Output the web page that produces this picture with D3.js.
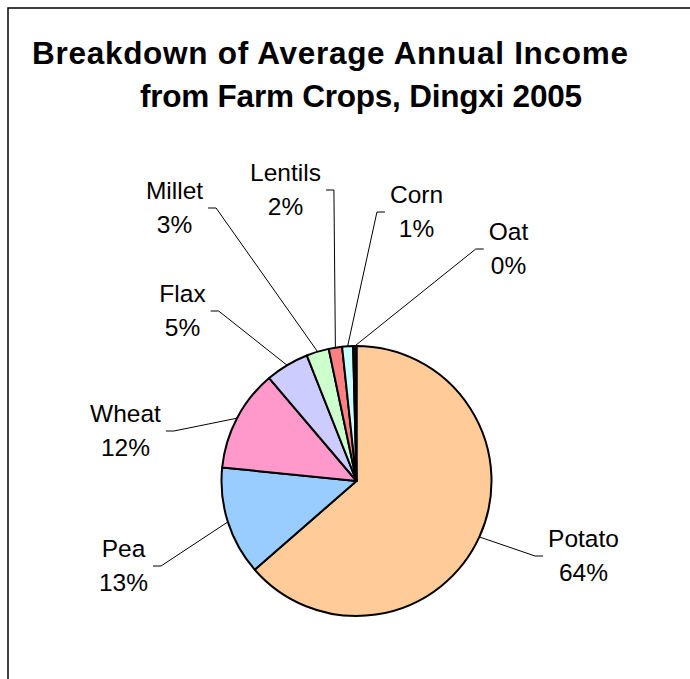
<!DOCTYPE html>
<html>
<head>
<meta charset="utf-8">
<script src="https://cdn.jsdelivr.net/npm/d3@7"></script>
<style>
  body { margin: 0; background: #fff; }
  svg text { font-family: "Liberation Sans", Arial, sans-serif; fill: #000; }
</style>
</head>
<body>
<div id="chart"></div>
<script>
// crops, clockwise from 12 o'clock
const crops = ["Potato", "Pea", "Wheat", "Flax", "Millet", "Lentils", "Corn", "Oat"];
// share of income (%)
const shares = [63.6, 13.0, 12.2, 5.2, 2.7, 1.6, 1.3, 0.4];
const sliceColors = ["#FFCC99", "#99CCFF", "#FF99CC", "#CCCCFF", "#CCFFCC", "#FF8080", "#CCFFFF", "#111111"];

const titleLines = ["Breakdown of Average Annual Income", "from Farm Crops, Dingxi 2005"];

// where the dragged labels sit, relative to the pie centre (like excel's manual label placement)
const labelOffsets = [[227, 74], [-233, 84], [-231, -51], [-174, -171], [-182, -274], [-71, -292], [60, -270], [152, -233]];

const width = 690, height = 679;
const cx = 356.5, cy = 481, radius = 135;

const svg = d3.select("#chart").append("svg")
    .attr("width", width)
    .attr("height", height);

// outer frame (runs off the right and bottom)
svg.append("rect")
    .attr("x", 8).attr("y", 8)
    .attr("width", 720).attr("height", 720)
    .attr("fill", "none")
    .attr("stroke", "#000")
    .attr("stroke-width", 1.5);

// title - the original is stretched a bit wider than plain arial, so fit each line to its width
const titleBox = [[32, 596], [140, 442]];
svg.selectAll("text.title")
    .data(titleLines)
    .enter()
    .append("text")
    .attr("class", "title")
    .attr("x", (d, i) => titleBox[i][0])
    .attr("y", (d, i) => 64 + i * 42.5)
    .attr("textLength", (d, i) => titleBox[i][1])
    .attr("lengthAdjust", "spacing")
    .style("font-size", "31.5px")
    .style("font-weight", "bold")
    .text(d => d);

const pieData = d3.pie().sort(null).value(d => d.value)(
    crops.map((c, i) => ({ name: c, value: shares[i], color: sliceColors[i] }))
);

const arc = d3.arc().innerRadius(0).outerRadius(radius);

const g = svg.append("g").attr("transform", `translate(${cx},${cy})`);

g.selectAll("path.slice")
    .data(pieData)
    .enter()
    .append("path")
    .attr("class", "slice")
    .attr("d", arc)
    .attr("fill", d => d.data.color)
    .attr("stroke", "#000")
    .attr("stroke-width", 2)
    .attr("stroke-linejoin", "round");

const total = d3.sum(shares);
const pct = d => Math.round(d.value / total * 100) + "%";

// labels (two lines: name + percent)
const labels = g.selectAll("g.label")
    .data(pieData)
    .enter()
    .append("g")
    .attr("class", "label")
    .attr("transform", (d, i) => `translate(${labelOffsets[i][0]},${labelOffsets[i][1]})`);

labels.append("text")
    .attr("text-anchor", "middle")
    .attr("y", -8.5)
    .style("font-size", "24.5px")
    .text(d => d.data.name);

labels.append("text")
    .attr("text-anchor", "middle")
    .attr("y", 25.5)
    .style("font-size", "24.5px")
    .text(d => pct(d));

// leader lines: from slice edge to an elbow next to the label, then a short horizontal tick
labels.each(function (d, i) {
    const halfW = d3.max(d3.select(this).selectAll("text").nodes(), n => n.getComputedTextLength()) / 2;
    const [lx, ly] = labelOffsets[i];
    const side = lx < 0 ? -1 : 1;
    const mid = (d.startAngle + d.endAngle) / 2;
    const start = d3.pointRadial(mid, radius);
    const tickEnd = lx - side * (halfW + 5);
    const elbow = tickEnd - side * 8;
    g.append("path")
        .attr("d", d3.line()([start, [elbow, ly + 1], [tickEnd, ly + 1]]))
        .attr("fill", "none")
        .attr("stroke", "#000")
        .attr("stroke-width", 1);
});
</script>
</body>
</html>
